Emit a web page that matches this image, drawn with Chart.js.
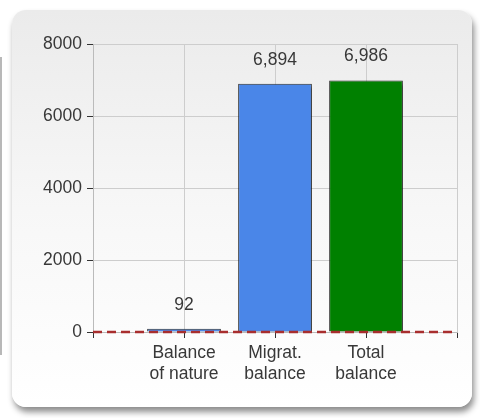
<!DOCTYPE html>
<html>
<head>
<meta charset="utf-8">
<script src="https://cdn.jsdelivr.net/npm/chart.js@4"></script>
<style>
  html, body { margin: 0; padding: 0; background: #fff; }
  body { width: 480px; height: 418px; position: relative; overflow: hidden; }
  #side { position: absolute; left: 0; top: 57px; width: 2px; height: 298px; background: #b8b8b8; }
  #panel {
    position: absolute; left: 12px; top: 10px; width: 460px; height: 397px;
    border-radius: 14px;
    background: linear-gradient(#ebebeb, #f7f7f7 50%, #ffffff);
    box-shadow: 2px 5px 6px rgba(0,0,0,0.45);
  }
  #wrap { position: absolute; left: 0; top: 0; width: 480px; height: 418px; }
</style>
</head>
<body>
<div id="side"></div>
<div id="panel"></div>
<div id="wrap"><canvas id="balanceChart" width="480" height="418"></canvas></div>
<script>
const ctx = document.getElementById('balanceChart').getContext('2d');

// categories, with empty slots at both ends of the axis
const categories = ['', ['Balance', 'of nature'], ['Migrat.', 'balance'], ['Total', 'balance'], ''];
const balances = [null, 92, 6894, 6986, null];
const zeroLine = [0, 0, 0, 0, 0];
const barColors = ['#4a86e8', '#4a86e8', '#4a86e8', '#008000', '#008000'];
const yTicks = [0, 2000, 4000, 6000, 8000];

const textColor = '#383838';
const fontFamily = '"Liberation Sans", Arial, sans-serif';

// soft drop shadow under the bars
const barShadow = {
    id: 'barShadow',
    beforeDatasetDraw(chart, args) {
        if (args.meta.type !== 'bar') return;
        const c = chart.ctx;
        c.save();
        c.shadowColor = 'rgba(0,0,0,0.45)';
        c.shadowBlur = 3;
        c.shadowOffsetX = 2;
        c.shadowOffsetY = 2;
    },
    afterDatasetDraw(chart, args) {
        if (args.meta.type !== 'bar') return;
        chart.ctx.restore();
    }
};

// value labels above the bars
const valueLabels = {
    id: 'valueLabels',
    afterDatasetsDraw(chart) {
        const c = chart.ctx;
        const meta = chart.getDatasetMeta(0);
        c.save();
        c.font = '17.5px ' + fontFamily;
        c.fillStyle = textColor;
        c.textAlign = 'center';
        c.textBaseline = 'middle';
        meta.data.forEach((bar, i) => {
            const v = balances[i];
            if (v === null) return;
            c.fillText(v.toLocaleString('en-US'), bar.x, bar.y - 24);
        });
        c.restore();
    }
};

const data = {
    labels: categories,
    datasets: [
        {
            type: 'bar',
            label: 'balance',
            data: balances,
            backgroundColor: barColors,
            borderColor: '#2e2e2e',
            borderWidth: 1,
            categoryPercentage: 0.81,
            barPercentage: 1,
            order: 1
        },
        {
            type: 'line',
            label: 'zero',
            data: zeroLine,
            borderColor: '#a82e2e',
            borderWidth: 2.5,
            borderDash: [9, 5],
            pointRadius: 0,
            fill: false,
            clip: false,
            order: 0
        }
    ]
};

const config = {
    data: data,
    plugins: [barShadow, valueLabels],
    options: {
        responsive: false,
        animation: false,
        layout: {
            padding: { left: 0, right: 23, top: 44, bottom: 26 }
        },
        plugins: {
            legend: { display: false },
            tooltip: { enabled: false }
        },
        scales: {
            x: {
                type: 'category',
                offset: false,
                grid: {
                    offset: false,
                    color: '#cdcdcd',
                    tickColor: '#333',
                    tickLength: 6
                },
                border: { color: '#bbb' },
                ticks: {
                    color: textColor,
                    padding: 5,
                    maxRotation: 0,
                    autoSkip: false,
                    font: { family: fontFamily, size: 17.5, lineHeight: 1.2 }
                },
                afterFit(scale) { scale.height = 60; }
            },
            y: {
                type: 'linear',
                min: 0,
                max: 8000,
                afterBuildTicks(scale) { scale.ticks = yTicks.map(v => ({ value: v })); },
                grid: {
                    color: '#cdcdcd',
                    tickColor: '#333',
                    tickLength: 6
                },
                border: { color: '#bbb' },
                ticks: {
                    color: textColor,
                    padding: 5,
                    font: { family: fontFamily, size: 17.5 },
                    callback: v => String(v)
                },
                afterFit(scale) { scale.width = 93; }
            }
        }
    }
};

const balanceChart = new Chart(ctx, config);
</script>
</body>
</html>
